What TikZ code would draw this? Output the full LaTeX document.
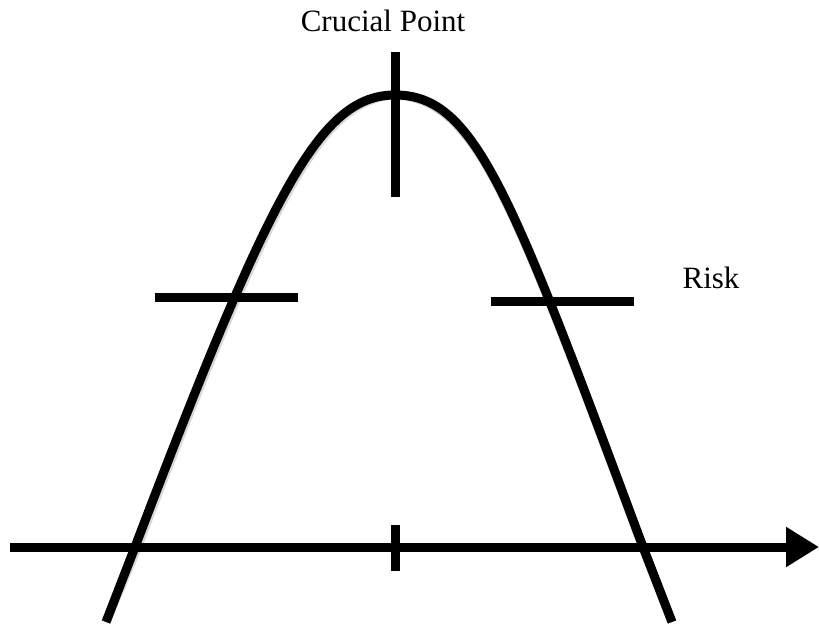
\documentclass[tikz,border=0pt]{standalone}
\usepackage{fontspec}
\setmainfont{Liberation Serif}
\usetikzlibrary{arrows.meta,positioning}

\begin{document}
\begin{tikzpicture}[x=1pt,y=-1pt,
      thick line/.style={line width=9pt},
      shade line/.style={line width=9pt,draw=black!15},
      label text/.style={font=\fontsize{31}{36}\selectfont,inner sep=0pt,anchor=base}]
    \useasboundingbox (0,0) rectangle (819,626);
    % points of the picture
    \coordinate (axisL) at (10,547);
    \coordinate (axisR) at (819,547);
    \coordinate (tickT) at (395,525);
    \coordinate (tickB) at (395,571);
    \coordinate (peakT) at (395,52);
    \coordinate (peakB) at (395,197);
    \coordinate (lbarL) at (155,297);
    \coordinate (lbarR) at (298,297);
    \coordinate (rbarL) at (491,301);
    \coordinate (rbarR) at (634,301);
    \coordinate (top) at (395,95);
    \coordinate (footL) at (106,622);
    \coordinate (footR) at (672,622);
    % soft shadow
    \begin{scope}[shift={(1,4)}]
      \draw[shade line] (footL) -- (135,547) .. controls (271,190) and (320,95) .. (top)
        .. controls (475,95) and (510,190) .. (643,547) -- (footR);
      \foreach \a/\b in {peakT/peakB,lbarL/lbarR,rbarL/rbarR,tickT/tickB}{\draw[shade line](\a)--(\b);}
      \draw[shade line,-{Triangle[length=33pt,width=38pt]}] (axisL)--(axisR);
    \end{scope}
    % curve
    \draw[thick line] (footL) -- (135,547) .. controls (271,190) and (320,95) .. (top)
      .. controls (475,95) and (510,190) .. (643,547) -- (footR);
    % marks
    \foreach \a/\b in {peakT/peakB,lbarL/lbarR,rbarL/rbarR,tickT/tickB}{\draw[thick line](\a)--(\b);}
    % axis
    \draw[thick line,-{Triangle[length=33pt,width=38pt]}] (axisL)--(axisR);
    % labels
    \node[label text] (crucial) at (383,32) {Crucial Point};
    \node[label text] (risk) at (711,288) {Risk};
  \end{tikzpicture}
\end{document}
